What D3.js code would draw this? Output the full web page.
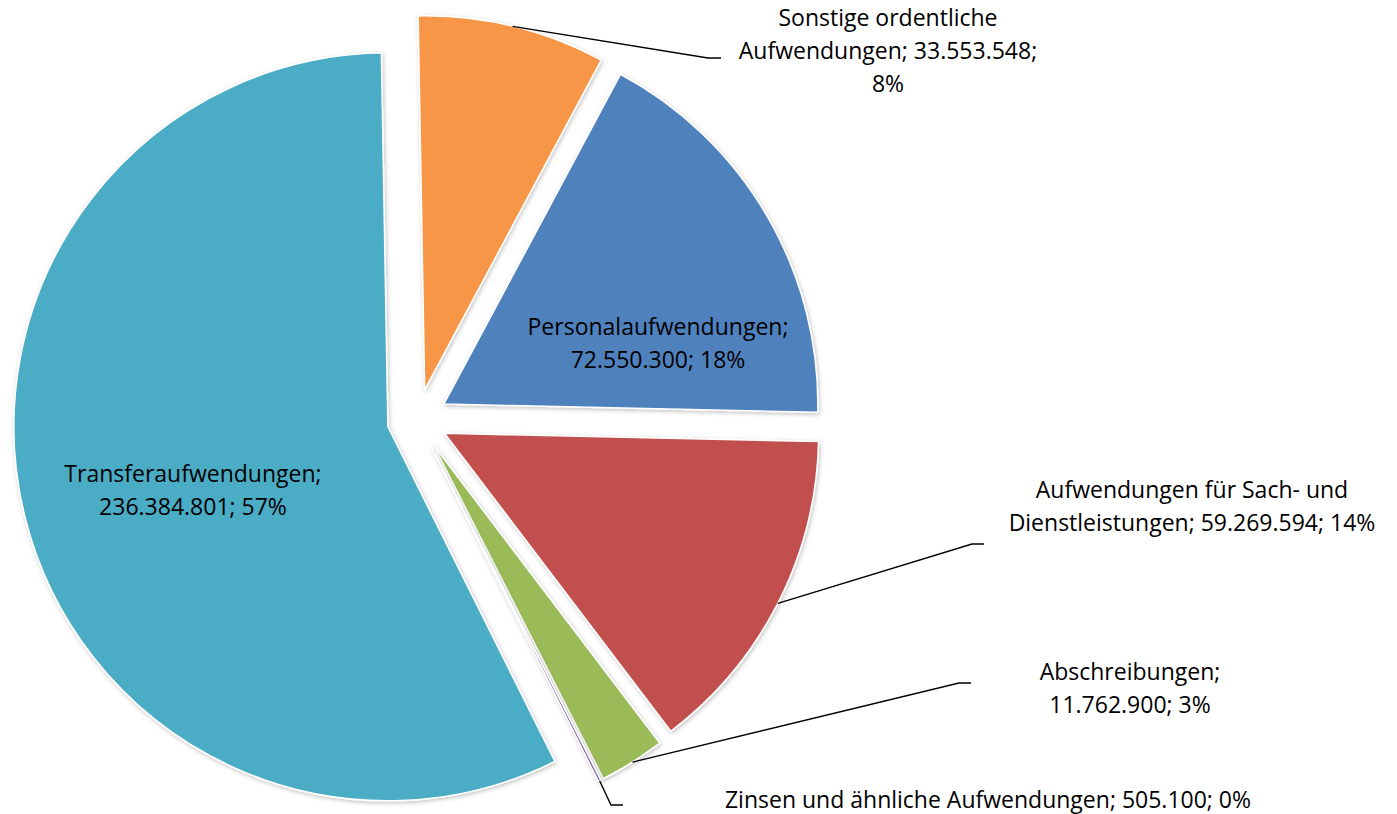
<!DOCTYPE html>
<html>
<head>
<meta charset="utf-8">
<script src="https://cdn.jsdelivr.net/npm/d3@7"></script>
<style>
  html, body { margin: 0; padding: 0; background: #fff; }
  svg { display: block; }
</style>
</head>
<body>
<svg id="chart"></svg>
<script>
// Data (Excel category order)
const categories = [
  "Personalaufwendungen",
  "Aufwendungen für Sach- und Dienstleistungen",
  "Abschreibungen",
  "Zinsen und ähnliche Aufwendungen",
  "Transferaufwendungen",
  "Sonstige ordentliche Aufwendungen"
];
const values = [72550300, 59269594, 11762900, 505100, 236384801, 33553548];
const colors = ["#4F81BD", "#C0504D", "#9BBB59", "#8064A2", "#4BACC6", "#F79646"];

// label layout: centre of text block, word indices after which to wrap, leader line kink/end
const labelLayout = [
  {x: 658, y: 343, breaks: [0]},
  {x: 1192, y: 506, breaks: [3], leader: [[972, 544], [984, 544]]},
  {x: 1130, y: 688, breaks: [0], leader: [[959, 683], [971, 683]]},
  {x: 988, y: 800, breaks: [], leader: [[611, 805], [623, 805]]},
  {x: 193, y: 490, breaks: [0]},
  {x: 888, y: 51, breaks: [1, 3], leader: [[708, 58], [721, 58]]}
];

const width = 1397, height = 814;
const cx = 417.5, cy = 419.5;   // pie centre
const radius = 374;
const explode = 30.5;
const lineHeight = 33;
const rotation = -1 * Math.PI / 180;

const de = d3.formatLocale({decimal: ",", thousands: ".", grouping: [3], currency: ["", " €"]});
const fmt = de.format(",d");
const total = d3.sum(values);

const svg = d3.select("#chart")
    .attr("width", width)
    .attr("height", height)
    .style("font-family", "'Open Sans', sans-serif");

const defs = svg.append("defs");
defs.append("filter")
    .attr("id", "shadow")
    .attr("x", "-10%").attr("y", "-10%").attr("width", "120%").attr("height", "120%")
  .append("feDropShadow")
    .attr("dx", 1).attr("dy", 1.5)
    .attr("stdDeviation", 2)
    .attr("flood-color", "#000")
    .attr("flood-opacity", 0.25);

// last slice (Sonstige) ends at 12 o'clock, so rotate start by its share
const offset = values[values.length - 1] / total * 2 * Math.PI + rotation;
const pie = d3.pie().sort(null).startAngle(offset).endAngle(offset + 2 * Math.PI);
const arcs = pie(values);

const arc = d3.arc().innerRadius(0).outerRadius(radius);

// shift of each slice along its mid angle
const shift = d => {
  const a = (d.startAngle + d.endAngle) / 2;
  return [explode * Math.sin(a), -explode * Math.cos(a)];
};

const slices = svg.append("g")
    .attr("transform", `translate(${cx},${cy})`);

slices.selectAll("path")
  .data(arcs)
  .join("path")
    .attr("transform", d => `translate(${shift(d)})`)
    .attr("d", arc)
    .attr("fill", (d, i) => colors[i])
    .attr("stroke", "#fff")
    .attr("stroke-width", 1.5)
    .attr("stroke-linejoin", "round")
    .attr("filter", "url(#shadow)");

// leader lines
const leaders = svg.append("g")
    .attr("fill", "none")
    .attr("stroke", "#000")
    .attr("stroke-width", 1.4);

arcs.forEach((d, i) => {
  const lay = labelLayout[i];
  if (!lay.leader) return;
  const a = (d.startAngle + d.endAngle) / 2;
  const [sx, sy] = shift(d);
  const start = [cx + sx + radius * Math.sin(a), cy + sy - radius * Math.cos(a)];
  leaders.append("path")
      .attr("d", d3.line()([start, ...lay.leader]));
});

// data labels
const labels = svg.append("g")
    .attr("text-anchor", "middle")
    .attr("font-size", 23)
    .attr("fill", "#000");

arcs.forEach((d, i) => {
  const lay = labelLayout[i];
  const pct = Math.round(values[i] / total * 100) + "%";
  const words = `${categories[i]}; ${fmt(values[i])}; ${pct}`.split(" ");
  const lines = [];
  let cur = [];
  words.forEach((w, k) => {
    cur.push(w);
    if (lay.breaks.includes(k)) { lines.push(cur.join(" ")); cur = []; }
  });
  if (cur.length) lines.push(cur.join(" "));

  const t = labels.append("text");
  lines.forEach((ln, j) => {
    t.append("tspan")
        .attr("x", lay.x)
        .attr("y", lay.y + (j - (lines.length - 1) / 2) * lineHeight)
        .attr("dy", "0.35em")
        .text(ln);
  });
});
</script>
</body>
</html>
